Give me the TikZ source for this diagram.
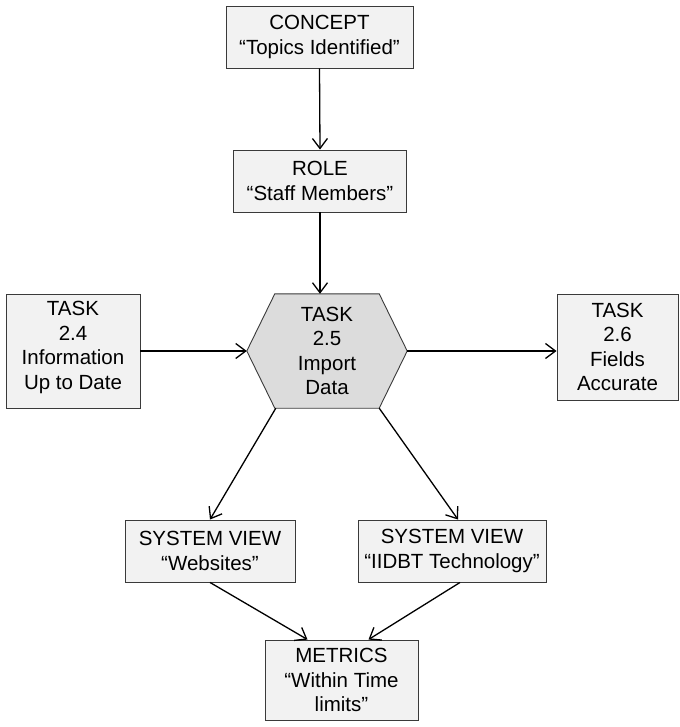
\documentclass[tikz,border=0pt]{standalone}
\usepackage{fontspec}
\setmainfont{Liberation Sans}
\usetikzlibrary{arrows.meta,backgrounds}
\definecolor{boxfill}{HTML}{F2F2F2}
\definecolor{hexfill}{HTML}{DCDCDC}
\definecolor{edgegray}{HTML}{3A3A3A}
\begin{document}
\begin{tikzpicture}[x=1pt,y=-1pt,
  every node/.style={font=\fontsize{20.5}{24.5}\selectfont, align=center, inner sep=0pt},
  box/.style={draw=edgegray, line width=0.9pt, fill=boxfill, rectangle},
  link/.style={line width=1.3pt, -{Straight Barb[length=10pt,width=15pt,line width=1.3pt]}}]
  \useasboundingbox (0,0) rectangle (679,727);

  % upper chain
  \node[box, minimum width=187pt, minimum height=62pt] (concept) at (319.5,37)
    {CONCEPT\\“Topics Identified”};
  \node[box, minimum width=173pt, minimum height=62pt] (role) at (320,181)
    {ROLE\\“Staff Members”};

  % central task (hexagon drawn behind its label)
  \node[minimum width=160pt, minimum height=114pt] (hex) at (327,351)
    {TASK\\2.5\\Import\\Data};
  \begin{scope}[on background layer]
    \draw[draw=edgegray, line width=0.9pt, fill=hexfill]
      (hex.west) -- ([xshift=28pt]hex.north west) -- ([xshift=-28pt]hex.north east)
      -- (hex.east) -- ([xshift=-28pt]hex.south east) -- ([xshift=28pt]hex.south west) -- cycle;
  \end{scope}
  \coordinate (hexbl) at ([xshift=29pt]hex.south west);
  \coordinate (hexbr) at ([xshift=-28pt]hex.south east);

  % neighbouring tasks
  \node[box, minimum width=134pt, minimum height=114pt] (t24) at (73,351)
    {TASK\\2.4\\Information\\Up to Date\rule[-11pt]{0pt}{1pt}};
  \node[box, minimum width=121pt, minimum height=106pt] (t26) at (617.5,347)
    {TASK\\2.6\\Fields\\Accurate};

  % system views
  \node[box, minimum width=170pt, minimum height=62pt] (sv1) at (210,551)
    {SYSTEM VIEW\\“Websites”};
  \node[box, minimum width=188pt, minimum height=62pt] (sv2) at (452,551)
    {SYSTEM VIEW\\“IIDBT Technology”};

  % metrics
  \node[box, minimum width=153pt, minimum height=80pt] (metrics) at (341.5,680)
    {METRICS\\“Within Time\\limits”};

  % connectors
  \draw[link] (concept.south) -- (role.north);
  \draw[link] (role.south) -- (role.south |- hex.north);
  \draw[link] (t24.east |- hex.west) -- (hex.west);
  \draw[link] (hex.east) -- (t26.west |- hex.east);
  \draw[link] (hexbl) -- (sv1.north);
  \draw[link] (hexbr) -- ([xshift=6pt]sv2.north);
  \draw[link] (sv1.south) -- ([xshift=-34pt]metrics.north);
  \draw[link] ([xshift=8pt]sv2.south) -- ([xshift=27pt]metrics.north);
\end{tikzpicture}
\end{document}
